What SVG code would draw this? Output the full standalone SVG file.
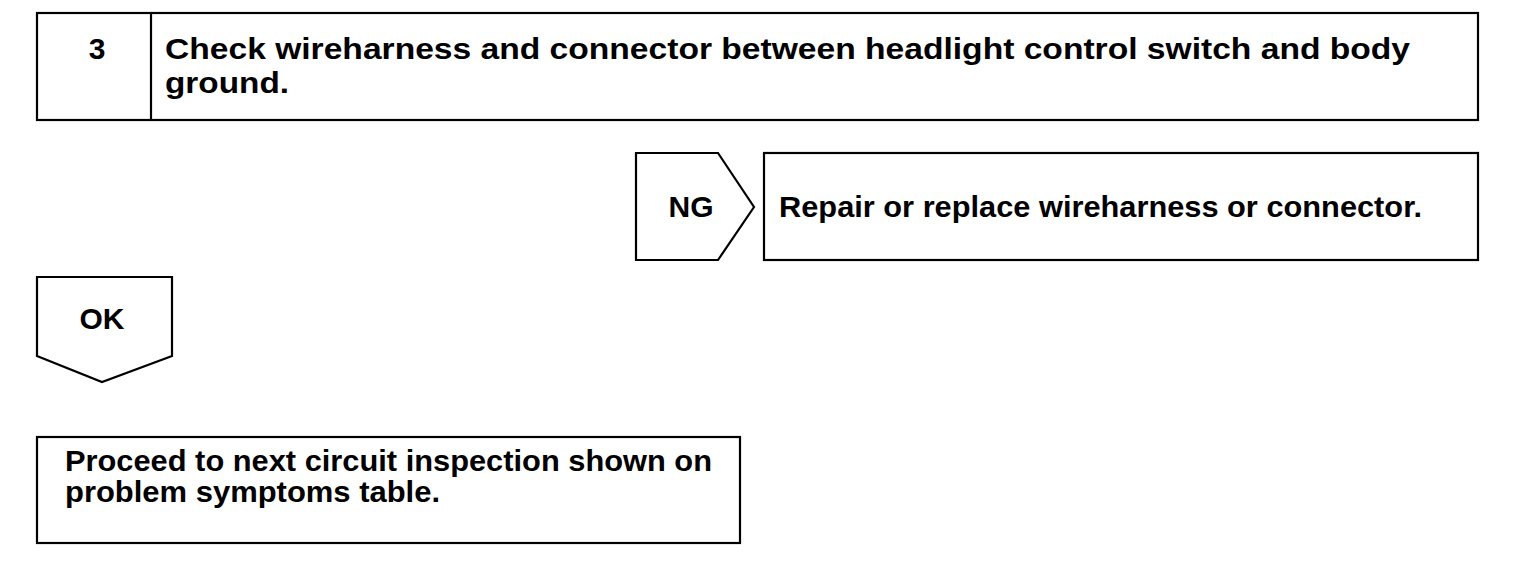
<svg xmlns="http://www.w3.org/2000/svg" width="1536" height="578" viewBox="0 0 1536 578">
<style>
.b{fill:#fff;stroke:#000;stroke-width:2.2}
.t{font-family:"Liberation Sans",Arial,sans-serif;font-weight:bold;font-size:30px;fill:#000}
</style>
<rect width="1536" height="578" fill="#fff"/>
<g id="step3">
<rect class="b" x="37" y="13" width="1441" height="107"/>
<line x1="151" y1="13" x2="151" y2="120" stroke="#000" stroke-width="2.2"/>
<text class="t" x="97" y="59" text-anchor="middle">3</text>
<text class="t" x="165" y="59" textLength="1245" lengthAdjust="spacingAndGlyphs">Check wireharness and connector between headlight control switch and body</text>
<text class="t" x="165" y="93" textLength="124" lengthAdjust="spacingAndGlyphs">ground.</text>
</g>
<g id="connectors">
<g id="ng">
<polygon class="b" points="636,153 718,153 754,207 718,260 636,260"/>
<text class="t" x="691" y="217" text-anchor="middle">NG</text>
</g>
<g id="ok">
<polygon class="b" points="37,277 172,277 172,356 102,382 37,356"/>
<text class="t" x="102" y="329" text-anchor="middle">OK</text>
</g>
</g>
<g id="repair">
<rect class="b" x="764" y="153" width="714" height="107"/>
<text class="t" x="779" y="217" textLength="643" lengthAdjust="spacingAndGlyphs">Repair or replace wireharness or connector.</text>
</g>
<g id="proceed">
<rect class="b" x="37" y="437" width="703" height="106"/>
<text class="t" x="65" y="471" textLength="647" lengthAdjust="spacingAndGlyphs">Proceed to next circuit inspection shown on</text>
<text class="t" x="65" y="502" textLength="375" lengthAdjust="spacingAndGlyphs">problem symptoms table.</text>
</g>
</svg>
